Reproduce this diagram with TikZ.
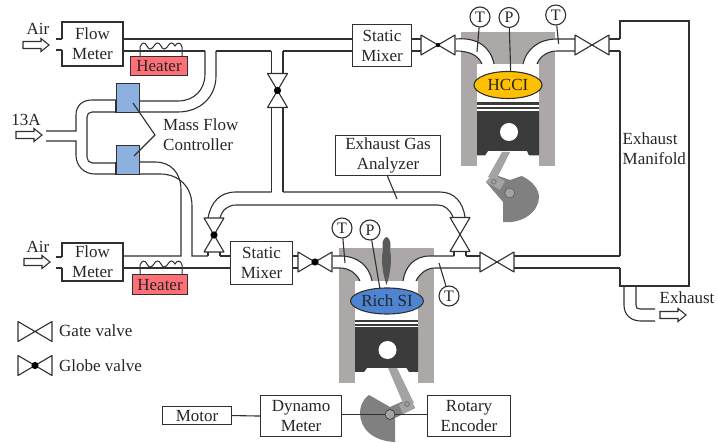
\documentclass[tikz,border=0pt]{standalone}
\usepackage{fontspec}
\usetikzlibrary{shapes.geometric}
\setmainfont{Liberation Serif}
\definecolor{ln}{HTML}{303030}
\definecolor{blockgray}{HTML}{ABA8A7}
\definecolor{pistondark}{HTML}{3B3B3B}
\definecolor{rodgray}{HTML}{A3A3A3}
\definecolor{crankgray}{HTML}{808080}
\definecolor{heaterred}{HTML}{FF6F78}
\definecolor{mfcblue}{HTML}{8DB0E0}
\definecolor{hcciyellow}{HTML}{FFC000}
\definecolor{siblue}{HTML}{4F84D2}
\tikzset{
  x=1pt,y=-1pt,
  pipe/.style={draw=ln,line width=1.1pt},
  lbl/.style={font=\fontsize{17}{20}\selectfont,align=center,inner sep=0pt,text=black!85},
  boxn/.style={draw=ln,line width=1.1pt,fill=white,lbl,anchor=north west},
  sensor/.style={draw=ln,line width=1.1pt,fill=white,circle,minimum size=20pt,lbl,font=\fontsize{16}{18}\selectfont},
  hollowarrow/.pic={\draw[draw=ln,line width=1.1pt,fill=white] (-13,-3.5)--(5,-3.5)--(5,-6.5)--(13,0)--(5,6.5)--(5,3.5)--(-13,3.5)--cycle;},
  gatev/.pic={\draw[draw=ln,line width=1.1pt,fill=white,line join=round] (-17,-10)--(17,10)--(17,-10)--(-17,10)--cycle;},
  globev/.pic={\draw[draw=ln,line width=1.1pt,fill=white,line join=round] (-17,-10)--(17,10)--(17,-10)--(-17,10)--cycle;
     \fill[black] (0,0) circle (3.6);},
  globesmall/.pic={\draw[draw=ln,line width=1.1pt,fill=white,line join=round] (-17,-10)--(17,10)--(17,-10)--(-17,10)--cycle;
     \fill[black] (0,0) circle (2.2);},
}
\newcommand{\coil}[2]{% x, y of the left end at the box
  \draw[pipe,line width=1pt] (#1,#2) -- (#1,#2-9) .. controls (#1+2,#2-14) and (#1+5,#2-14) .. (#1+7,#2-10)
   .. controls (#1+9,#2-6) and (#1+11,#2-6) .. (#1+14,#2-10)
   .. controls (#1+16,#2-14) and (#1+19,#2-14) .. (#1+21,#2-10)
   .. controls (#1+23,#2-6) and (#1+25,#2-6) .. (#1+28,#2-10)
   .. controls (#1+30,#2-14) and (#1+33,#2-14) .. (#1+35,#2-10)
   .. controls (#1+37,#2-14) and (#1+41,#2-14) .. (#1+42,#2-9) -- (#1+42,#2);}
\begin{document}
\begin{tikzpicture}
\useasboundingbox (0,0) rectangle (718,443);

%% ---------- gray engine bodies
\fill[blockgray] (461,32) rectangle (555,166);
\fill[white] (477,64) rectangle (539,166);
\fill[blockgray] (339,248) rectangle (434,383);
\fill[white] (355,281) rectangle (418,383);

%% ---------- engine ports
\path[fill=white] (456,39) .. controls (478,37) and (491,48) .. (494,64) -- (482,64) .. controls (478,55) and (469,51) .. (456,51) -- cycle;
\draw[pipe] (456,39) .. controls (478,37) and (491,48) .. (494,64);
\draw[pipe] (456,51) .. controls (469,51) and (478,55) .. (482,64);
\path[fill=white] (575,39) -- (557,39) .. controls (538,39) and (526,50) .. (523,64) -- (537,64) .. controls (540,56) and (548,51) .. (557,51) -- (575,51) -- cycle;
\draw[pipe] (575,39) -- (557,39) .. controls (538,39) and (526,50) .. (523,64);
\draw[pipe] (575,51) -- (557,51) .. controls (548,51) and (540,56) .. (537,64);

\path[fill=white] (333,256) -- (340,256) .. controls (357,256) and (369,265) .. (372,281) -- (360,281) .. controls (356,273) and (349,268) .. (340,268) -- (333,268) -- cycle;
\draw[pipe] (333,256) -- (340,256) .. controls (357,256) and (369,265) .. (372,281);
\draw[pipe] (333,268) -- (340,268) .. controls (349,268) and (356,273) .. (360,281);
\path[fill=white] (454,256) -- (430,256) .. controls (414,256) and (405,267) .. (403,281) -- (416,281) .. controls (420,273) and (427,268) .. (435,268) -- (454,268) -- cycle;
\draw[pipe] (454,256) -- (430,256) .. controls (414,256) and (405,267) .. (403,281);
\draw[pipe] (480,268) -- (435,268) .. controls (427,268) and (420,273) .. (416,281);

%% ---------- spark plug
\fill[black!65] (386.5,237) .. controls (391,238) and (391,246) .. (390,250) .. controls (392,258) and (391,272) .. (386.5,285)
  .. controls (382,272) and (381,258) .. (383,250) .. controls (382,246) and (382,238) .. (386.5,237) -- cycle;

%% ---------- upper piston and crank
\fill[crankgray] (521.6,176) .. controls (533,181) and (539,190) .. (539,197) .. controls (539,212) and (522,224) .. (503,222) -- (503,202) -- (486,182) -- (492.7,174) -- (510,180) -- cycle;
\fill[rodgray] (502,152) -- (510,152) -- (496,180) -- (488,177) -- cycle;
\fill[rodgray] (486,182) -- (492.7,174) -- (505,181) -- (500,190) -- cycle;
\fill[crankgray] (493.7,181.7) circle (3);
\fill[rodgray] (493.7,181.7) circle (1.7);
\draw[crankgray!70!black,fill=rodgray,line width=.6pt] (509.7,193) circle (5);
\fill[pistondark] (477,102) rectangle (539,113);
\fill[white] (477,105) rectangle (539,106.6);
\fill[white] (477,109.2) rectangle (539,110.8);
\fill[pistondark] (477,113) -- (539,113) -- (539,155.5) -- (529,155.5) -- (527,151) -- (488,151) -- (485,155.5) -- (477,155.5) -- cycle;
\fill[white] (509,132) circle (9);

%% ---------- lower piston and crank
\fill[crankgray] (369,395) .. controls (362,400) and (360,407) .. (360,413) .. controls (360,428) and (372,441) .. (395,442) -- (395,418) -- (415,408) -- (410,398) -- (390,407) -- cycle;
\fill[rodgray] (388,368) -- (397,368) -- (414,403) -- (403,403) -- cycle;
\fill[rodgray] (399,405) -- (410,398) -- (415,408) -- (403,414) -- cycle;
\fill[crankgray] (407,404) circle (3);
\fill[rodgray] (407,404) circle (1.7);
\fill[pistondark] (355,320) rectangle (418,329);
\fill[white] (355,322) rectangle (418,323.7);
\fill[white] (355,325.7) rectangle (418,327.2);
\fill[pistondark] (355,329) -- (418,329) -- (418,372) -- (409,372) -- (406.5,368) -- (367,368) -- (364,372) -- (355,372) -- cycle;
\fill[white] (387.5,350) circle (9);

%% ---------- pipes, upper line
\draw[pipe] (123,39) -- (352,39);
\draw[pipe] (123,51) -- (205,51);
\draw[pipe] (216,51) -- (271,51);
\draw[pipe] (283,51) -- (352,51);
\draw[pipe] (411,39) -- (422,39) (411,51) -- (422,51);
\draw[pipe] (609,39) -- (620,39) (609,51) -- (620,51);

%% mass flow pipes
\draw[pipe] (205,51) -- (205,74) .. controls (205,90) and (194,101) .. (178,101) -- (139,101);
\draw[pipe] (216,51) -- (216,76) .. controls (216,97) and (200,112) .. (178,112) -- (139,112);
\draw[pipe] (116,100) -- (92,100) .. controls (82,100) and (76,106) .. (76,115) -- (76,131) -- (46,131);
\draw[pipe] (116,112) -- (92,112) .. controls (89,112) and (87,114) .. (87,117) -- (87,157) .. controls (87,160) and (89,163) .. (92,163) -- (116,163);
\draw[pipe] (46,141) -- (76,141) -- (76,155) .. controls (76,166) and (84,174) .. (95,174) -- (116,174);
\draw[pipe] (139,162) -- (155,162) .. controls (171,162) and (181,173) .. (181,190) -- (181,256) -- (123,256);
\draw[pipe] (139,174) -- (160,174) .. controls (179,174) and (192,187) .. (192,206) -- (192,256) -- (208,256);
\draw[pipe] (123,268) -- (230,268);
\draw[pipe] (220,256) -- (230,256);
\draw[pipe] (208,252) -- (208,256) (220,252) -- (220,256);

%% cross pipes
\draw[pipe] (271.5,51) -- (271.5,73) (283,51) -- (283,73);
\draw[pipe] (271.5,108) -- (271.5,192) (283,108) -- (283,192);
\draw[pipe] (208,218) .. controls (211,202) and (220,192) .. (236,192) -- (271.5,192);
\draw[pipe] (283,192) -- (440,192) .. controls (455,192) and (463,203) .. (465,217);
\draw[pipe] (220,218) .. controls (222,210) and (228,205) .. (236,205) -- (438,205) .. controls (445,205) and (450,210) .. (453,217);
\draw[pipe] (454,252) -- (454,256) (466,252) -- (466,256);
\draw[pipe] (466,256) -- (480,256);
\draw[pipe] (292,256) -- (298,256) (292,268) -- (298,268);
\draw[pipe] (514,256) -- (620,256) (514,268) -- (620,268);

%% flow-meter stubs
\draw[pipe] (56,39) -- (62,39) (56,50) -- (62,50);
\draw[pipe] (56,257) -- (62,257) (56,268) -- (62,268);

%% exhaust out
\draw[pipe] (624,286) -- (624,305) .. controls (624,315) and (631,321) .. (641,321) -- (655,321);
\draw[pipe] (636,286) -- (636,305) .. controls (636,308) and (637,309) .. (640,309) -- (655,309);

%% ---------- boxes with inlet gaps
\node[lbl] (fm1) at (92.5,44) {Flow\\Meter};
\draw[pipe] (62,39) -- (62,22) -- (123,22) -- (123,66) -- (62,66) -- (62,50);
\node[lbl] (fm2) at (92.5,262) {Flow\\Meter};
\draw[pipe] (62,257) -- (62,243) -- (123,243) -- (123,281) -- (62,281) -- (62,268);
\node[lbl,align=left,anchor=west] (man) at (622.5,149) {Exhaust\\Manifold};
\draw[pipe] (620,39) -- (620,21) -- (689,21) -- (689,286) -- (620,286) -- (620,268);
\draw[pipe] (620,51) -- (620,256);

%% heaters
\coil{140}{56}
\coil{140}{274}
\node[draw=ln,line width=1.1pt,fill=heaterred,lbl,minimum width=57pt,minimum height=19pt,anchor=north west] (h1) at (130,56) {Heater};
\node[draw=ln,line width=1.1pt,fill=heaterred,lbl,minimum width=55pt,minimum height=20pt,anchor=north west] (h2) at (132,274) {Heater};

%% boxes
\node[boxn,minimum width=59pt,minimum height=42pt] (sm1) at (352,24) {Static\\Mixer};
\node[boxn,minimum width=62pt,minimum height=43pt] (sm2) at (230,241) {Static\\Mixer};
\node[boxn,minimum width=105pt,minimum height=40pt] (ega) at (335,135) {Exhaust Gas\\Analyzer};
\node[boxn,minimum width=69pt,minimum height=18pt] (mot) at (162,406) {Motor};
\node[boxn,minimum width=81pt,minimum height=41pt] (dyn) at (260,395) {Dynamo\\Meter};
\node[boxn,minimum width=83pt,minimum height=41pt] (enc) at (427,395) {Rotary\\Encoder};
\coordinate (crank) at (390,414.5);
\draw[pipe] (mot.east) -- (dyn.west);
\draw[pipe] (dyn.east |- crank) -- (crank);
\draw[pipe] (crank) -- (enc.west |- crank);
\draw[ln,fill=rodgray,line width=.6pt] (crank) circle (5);

%% MFC blocks
\node[draw=ln,line width=1.1pt,fill=mfcblue,minimum width=23pt,minimum height=29pt,inner sep=0pt,anchor=north west] (mfc1) at (116,83) {};
\node[draw=ln,line width=1.1pt,fill=mfcblue,minimum width=23pt,minimum height=29pt,inner sep=0pt,anchor=north west] (mfc2) at (116,145) {};
\draw[ln,line width=1.7pt] (116,100) -- (116,113) (116,162) -- (116,175);
\coordinate (mfcj) at (155,135);
\coordinate (mfca) at (133,103);
\coordinate (mfcb) at (134,156);
\draw[pipe] (mfca) -- (mfcj) -- (mfcb);
\node[lbl,align=left,anchor=west] (mfclabel) at (163,135) {Mass Flow\\Controller};

%% valves
\pic at (438,45) {globesmall};
\pic at (592,45) {gatev};
\pic at (315,262) {globev};
\pic at (497,262) {gatev};
\pic[rotate=90] at (277.5,90.5) {globev};
\pic[rotate=90] at (214,235) {globev};
\pic[rotate=90] at (460,234.5) {gatev};
\pic at (35,331.5) {gatev};
\pic at (35,365.5) {globev};
\node[lbl,anchor=west] (gl) at (59,331) {Gate valve};
\node[lbl,anchor=west] (gb) at (59,365.5) {Globe valve};

%% arrows
\pic at (36,45) {hollowarrow};
\pic at (29,135) {hollowarrow};
\pic at (37,262) {hollowarrow};
\pic at (673,315) {hollowarrow};
\node[lbl] (a1) at (38,29) {Air};
\node[lbl] (a2) at (38,247) {Air};
\node[lbl] (a3) at (26,120) {13A};
\node[lbl] (a4) at (687,298) {Exhaust};

%% leader lines and sensors
\coordinate (t1e) at (477,52);
\coordinate (p1e) at (510.7,72);
\coordinate (t2e) at (558.6,44);
\coordinate (t3e) at (345,263);
\coordinate (p2e) at (380,289);
\coordinate (t4e) at (439,263);
\coordinate (egas) at (387,175);
\coordinate (egae) at (397,199);
\node[sensor] (t1) at (480,17) {T};
\node[sensor] (p1) at (509,17.5) {P};
\node[sensor] (t2) at (555.7,15) {T};
\node[sensor] (t3) at (342,228) {T};
\node[sensor] (p2) at (370,230) {P};
\node[sensor] (t4) at (449,296) {T};
\draw[pipe] (t1) -- (t1e);
\draw[pipe] (p1) -- (p1e);
\draw[pipe] (t2) -- (t2e);
\draw[pipe] (t3) -- (t3e);
\draw[pipe] (p2) -- (p2e);
\draw[pipe] (t4) -- (t4e);
\draw[pipe] (egas) -- (egae);

%% combustion ellipses
\node[draw=ln,line width=1.1pt,fill=hcciyellow,ellipse,minimum width=68pt,minimum height=27pt,inner sep=0pt,lbl] (hcci) at (508,85) {HCCI};
\node[draw=ln,line width=1.1pt,fill=siblue,ellipse,minimum width=65pt,minimum height=26pt,inner sep=0pt,lbl] (si) at (387,301) {Rich SI};
\end{tikzpicture}
\end{document}
